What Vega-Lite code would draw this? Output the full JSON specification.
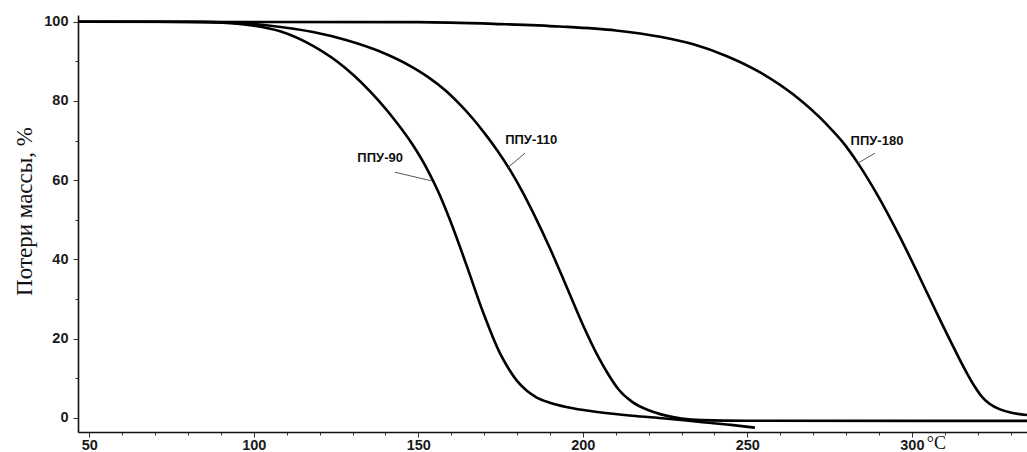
{
  "$schema": "https://vega.github.io/schema/vega-lite/v6.json",
  "width": 949,
  "height": 417,
  "autosize": {"type": "none"},
  "padding": {"left": 78, "top": 15, "right": 0, "bottom": 20},
  "background": "white",
  "config": {
    "view": {"stroke": null},
    "axis": {"domainColor": "#111", "domainWidth": 1.6, "tickColor": "#333", "tickWidth": 1, "labelFont": "Liberation Sans", "labelFontWeight": "bold", "labelFontSize": 14.5, "labelColor": "#1a1a1a", "grid": false}
  },
  "datasets": {
    "curves": [
      {"s": "ППУ-90", "t": 46.6, "m": 100}, {"s": "ППУ-90", "t": 70, "m": 100}, {"s": "ППУ-90", "t": 85, "m": 99.9}, {"s": "ППУ-90", "t": 95, "m": 99.5}, {"s": "ППУ-90", "t": 100, "m": 99}, {"s": "ППУ-90", "t": 108, "m": 97.6}, {"s": "ППУ-90", "t": 118, "m": 93.9}, {"s": "ППУ-90", "t": 128, "m": 88.2}, {"s": "ППУ-90", "t": 138, "m": 80}, {"s": "ППУ-90", "t": 143, "m": 75}, {"s": "ППУ-90", "t": 148, "m": 69.3}, {"s": "ППУ-90", "t": 153, "m": 62.3}, {"s": "ППУ-90", "t": 156, "m": 57.2}, {"s": "ППУ-90", "t": 159.6, "m": 50}, {"s": "ППУ-90", "t": 164.7, "m": 38.4}, {"s": "ППУ-90", "t": 169.7, "m": 26.6}, {"s": "ППУ-90", "t": 174.8, "m": 16.3}, {"s": "ППУ-90", "t": 177.5, "m": 12.3}, {"s": "ППУ-90", "t": 180, "m": 9.3}, {"s": "ППУ-90", "t": 183, "m": 6.8}, {"s": "ППУ-90", "t": 186, "m": 5.1}, {"s": "ППУ-90", "t": 190, "m": 3.8}, {"s": "ППУ-90", "t": 195, "m": 2.7}, {"s": "ППУ-90", "t": 205, "m": 1.4}, {"s": "ППУ-90", "t": 215, "m": 0.5}, {"s": "ППУ-90", "t": 225, "m": -0.2}, {"s": "ППУ-90", "t": 235, "m": -1.0}, {"s": "ППУ-90", "t": 245, "m": -1.8}, {"s": "ППУ-90", "t": 252.3, "m": -2.5},
      {"s": "ППУ-110", "t": 46.6, "m": 100}, {"s": "ППУ-110", "t": 80, "m": 100}, {"s": "ППУ-110", "t": 95, "m": 99.7}, {"s": "ППУ-110", "t": 105, "m": 99}, {"s": "ППУ-110", "t": 118, "m": 97.4}, {"s": "ППУ-110", "t": 128, "m": 95.4}, {"s": "ППУ-110", "t": 138, "m": 92.6}, {"s": "ППУ-110", "t": 148, "m": 88.6}, {"s": "ППУ-110", "t": 153, "m": 86}, {"s": "ППУ-110", "t": 158.7, "m": 82.3}, {"s": "ППУ-110", "t": 163, "m": 78.8}, {"s": "ППУ-110", "t": 166.6, "m": 75.5}, {"s": "ППУ-110", "t": 170, "m": 72}, {"s": "ППУ-110", "t": 174, "m": 67.5}, {"s": "ППУ-110", "t": 178, "m": 62.4}, {"s": "ППУ-110", "t": 181.5, "m": 57.3}, {"s": "ППУ-110", "t": 185, "m": 51.6}, {"s": "ППУ-110", "t": 190, "m": 42.8}, {"s": "ППУ-110", "t": 195, "m": 33.2}, {"s": "ППУ-110", "t": 200, "m": 23.5}, {"s": "ППУ-110", "t": 205, "m": 14.9}, {"s": "ППУ-110", "t": 208, "m": 10.6}, {"s": "ППУ-110", "t": 211, "m": 7.0}, {"s": "ППУ-110", "t": 215, "m": 4.0}, {"s": "ППУ-110", "t": 220, "m": 1.9}, {"s": "ППУ-110", "t": 225, "m": 0.6}, {"s": "ППУ-110", "t": 230, "m": -0.2}, {"s": "ППУ-110", "t": 236, "m": -0.6}, {"s": "ППУ-110", "t": 250, "m": -0.75}, {"s": "ППУ-110", "t": 335, "m": -0.8},
      {"s": "ППУ-180", "t": 46.6, "m": 100}, {"s": "ППУ-180", "t": 150, "m": 99.9}, {"s": "ППУ-180", "t": 175, "m": 99.4}, {"s": "ППУ-180", "t": 193, "m": 98.8}, {"s": "ППУ-180", "t": 210, "m": 97.8}, {"s": "ППУ-180", "t": 223.5, "m": 96.2}, {"s": "ППУ-180", "t": 233.6, "m": 94.3}, {"s": "ППУ-180", "t": 243.8, "m": 91.3}, {"s": "ППУ-180", "t": 253.9, "m": 87.2}, {"s": "ППУ-180", "t": 264, "m": 81.6}, {"s": "ППУ-180", "t": 274.2, "m": 74}, {"s": "ППУ-180", "t": 279, "m": 69.6}, {"s": "ППУ-180", "t": 283.6, "m": 64.3}, {"s": "ППУ-180", "t": 289.3, "m": 56.6}, {"s": "ППУ-180", "t": 296.4, "m": 45.6}, {"s": "ППУ-180", "t": 301.5, "m": 37}, {"s": "ППУ-180", "t": 306.5, "m": 28.3}, {"s": "ППУ-180", "t": 311.6, "m": 19.6}, {"s": "ППУ-180", "t": 316.7, "m": 11.3}, {"s": "ППУ-180", "t": 319, "m": 8}, {"s": "ППУ-180", "t": 321, "m": 5.6}, {"s": "ППУ-180", "t": 323.5, "m": 3.6}, {"s": "ППУ-180", "t": 326.8, "m": 2.1}, {"s": "ППУ-180", "t": 330, "m": 1.3}, {"s": "ППУ-180", "t": 335, "m": 0.7}
    ],
    "labels": [
      {"s": "ППУ-90", "t": 138.4, "m": 65.7, "t1": 142.9, "m1": 62.0, "t2": 154.1, "m2": 59.8},
      {"s": "ППУ-110", "t": 184.3, "m": 70.1, "t1": 182.4, "m1": 66.8, "t2": 177.3, "m2": 63.2},
      {"s": "ППУ-180", "t": 289.4, "m": 69.9, "t1": 288.8, "m1": 66.8, "t2": 283.6, "m2": 64.3}
    ],
    "unit": [{"t": 300, "m": -3.6, "u": "°C"}]
  },
  "resolve": {"axis": {"x": "independent"}},
  "layer": [
    {
      "data": {"name": "curves"},
      "mark": {"type": "line", "color": "#000", "strokeWidth": 2.6, "interpolate": "monotone"},
      "encoding": {
        "x": {"field": "t", "type": "quantitative", "scale": {"domain": [46.57, 335], "nice": false, "zero": false},
          "axis": {"title": null, "orient": "bottom", "values": [50,100,150,200,250,300],
            "tickSize": 5, "labelPadding": 1, "labelFlush": false, "labelOverlap": false}},
        "y": {"field": "m", "type": "quantitative", "scale": {"domain": [-3.6, 101.7], "nice": false, "zero": false},
          "axis": {"title": "Потери массы, %", "titleFont": "Liberation Serif", "titleFontWeight": "normal", "titleFontSize": 23, "titleColor": "#111", "titlePadding": 7, "titleY": 196,
            "values": [0,10,20,30,40,50,60,70,80,90,100],
            "labelExpr": "datum.value % 20 === 0 ? datum.label : ''",
            "labelOverlap": false,
            "tickSize": {"condition": {"test": "datum.value % 20 === 0", "value": 5}, "value": 3},
            "labelPadding": 5, "labelFlush": false}},
        "detail": {"field": "s"}
      }
    },
    {
      "data": {"name": "labels"},
      "mark": {"type": "rule", "color": "#555", "strokeWidth": 1},
      "encoding": {
        "x": {"field": "t1", "type": "quantitative",
          "axis": {"title": null, "orient": "bottom", "values": [60,70,80,90,110,120,130,140,160,170,180,190,210,220,230,240,260,270,280,290,310,320,330],
            "labels": false, "domain": false, "tickSize": 3}},
        "y": {"field": "m1", "type": "quantitative"},
        "x2": {"field": "t2"},
        "y2": {"field": "m2"}
      }
    },
    {
      "data": {"name": "labels"},
      "mark": {"type": "text", "font": "Liberation Sans", "fontWeight": "bold", "fontSize": 13, "color": "#111", "align": "center", "baseline": "middle"},
      "encoding": {
        "x": {"field": "t", "type": "quantitative", "axis": null},
        "y": {"field": "m", "type": "quantitative"},
        "text": {"field": "s"}
      }
    },
    {
      "data": {"name": "unit"},
      "mark": {"type": "text", "font": "Liberation Serif", "fontSize": 18, "color": "#111", "align": "left", "baseline": "top", "dx": 15, "dy": 3},
      "encoding": {
        "x": {"field": "t", "type": "quantitative", "axis": null},
        "y": {"field": "m", "type": "quantitative"},
        "text": {"field": "u"}
      }
    }
  ]
}
